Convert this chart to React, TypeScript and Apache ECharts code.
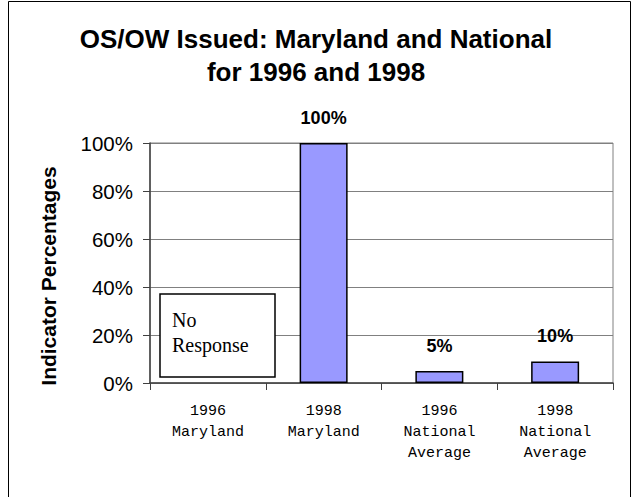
import React, { useEffect, useRef } from "react";
import * as echarts from "echarts";

const categories = ["1996\nMaryland", "1998\nMaryland", "1996\nNational\nAverage", "1998\nNational\nAverage"];
const values: (number | null)[] = [null, 100, 5, 9];
const valueLabels = ["", "100%", "5%", "10%"];
const yTicks = [0, 20, 40, 60, 80, 100];

export default function App() {
  const ref = useRef<HTMLDivElement>(null);
  useEffect(() => {
    document.body.style.margin = "0";
    const chart = echarts.init(ref.current!, null, { renderer: "svg" });
    chart.setOption({
      animation: false,
      backgroundColor: "#fff",
      title: {
        text: "OS/OW Issued: Maryland and National\nfor 1996 and 1998",
        left: "center",
        top: 17,
        textStyle: { fontFamily: "Liberation Sans, Arial", fontWeight: "bold", fontSize: 26, lineHeight: 33, color: "#000" },
      },
      grid: { left: 150, right: 19, top: 143, bottom: 114, show: true, borderColor: "#808080", borderWidth: 1 },
      xAxis: {
        type: "category",
        data: categories,
        axisLine: { lineStyle: { color: "#404040", width: 1.5 } },
        axisTick: { show: true, length: 7, lineStyle: { color: "#404040" } },
        axisLabel: { fontFamily: "Liberation Mono, monospace", fontSize: 15, lineHeight: 21, color: "#000", margin: 18, interval: 0 },
      },
      yAxis: {
        type: "value",
        min: 0,
        max: 100,
        interval: 20,
        axisLine: { show: true, lineStyle: { color: "#404040", width: 1.5 } },
        axisTick: { show: true, length: 7, lineStyle: { color: "#404040" } },
        axisLabel: {
          fontFamily: "Liberation Sans, Arial",
          fontSize: 20.5,
          color: "#000",
          margin: 17,
          formatter: (v: number) => (yTicks.includes(v) ? v + "%" : ""),
        },
        splitLine: { show: true, lineStyle: { color: "#808080", width: 1 } },
      },
      series: [
        {
          type: "bar",
          data: values,
          barWidth: 48,
          itemStyle: { color: "#9999FF", borderColor: "#000", borderWidth: 1.5 },
          label: {
            show: true,
            position: "top",
            distance: 16,
            fontFamily: "Liberation Sans, Arial",
            fontWeight: "bold",
            fontSize: 18,
            color: "#000",
            formatter: (p: any) => valueLabels[p.dataIndex],
          },
        },
      ],
      graphic: [
        {
          type: "rect",
          shape: { x: 8.5, y: 1.5, width: 622, height: 520 },
          style: { fill: "none", stroke: "#000", lineWidth: 1 },
          silent: true,
        },
        {
          type: "text",
          x: 48,
          y: 276,
          rotation: Math.PI / 2,
          style: {
            text: "Indicator Percentages",
            fontFamily: "Liberation Sans, Arial",
            fontWeight: "bold",
            fontSize: 21,
            fill: "#000",
            align: "center",
            verticalAlign: "middle",
          },
        },
        {
          type: "rect",
          shape: { x: 160, y: 294, width: 115, height: 83 },
          style: { fill: "#fff", stroke: "#000", lineWidth: 1.5 },
          z: 10,
        },
        {
          type: "text",
          x: 172,
          y: 307,
          style: { text: "No\nResponse", fontFamily: "Liberation Serif, serif", fontSize: 20, lineHeight: 25, fill: "#000" },
          z: 11,
        },
      ],
    });
    return () => chart.dispose();
  }, []);
  return <div ref={ref} style={{ width: 632, height: 497 }} />;
}
